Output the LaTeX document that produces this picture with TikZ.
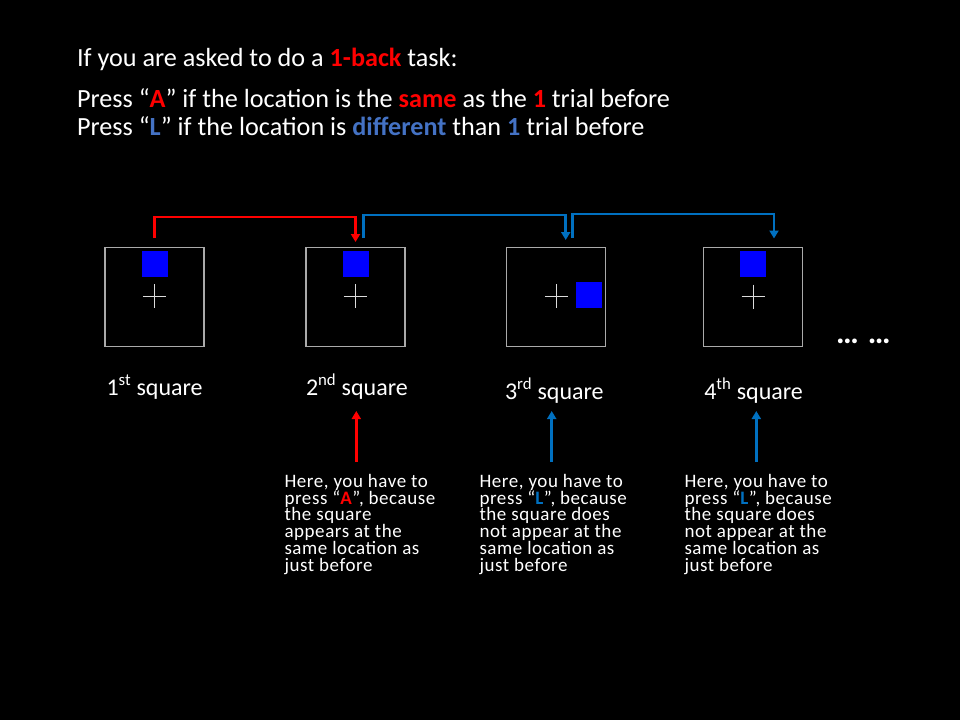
\documentclass[tikz,border=0pt]{standalone}
\usepackage{fontspec}
\setmainfont{Carlito}
\usetikzlibrary{arrows.meta}
\definecolor{tred}{RGB}{255,0,0}
\definecolor{tblue}{RGB}{68,114,196}
\definecolor{cblue}{RGB}{0,112,192}
\definecolor{sqblue}{RGB}{0,0,255}
\definecolor{framegray}{RGB}{170,170,170}
\definecolor{crossgray}{RGB}{220,220,220}
\newcommand{\R}[1]{\textcolor{tred}{\textbf{#1}}}
\newcommand{\B}[1]{\textcolor{tblue}{\textbf{#1}}}
\newcommand{\C}[1]{\textcolor{cblue}{\textbf{#1}}}
\begin{document}
\begin{tikzpicture}[x=1pt,y=-1pt,
  every node/.style={text=white, inner sep=0pt, outer sep=0pt},
  titletext/.style={anchor=base west, font=\fontsize{26.2}{28.5}\selectfont},
  labeltext/.style={anchor=base west, font=\fontsize{24}{28}\selectfont},
  notetext/.style={anchor=north west, align=left, font=\fontsize{19}{16.8}\selectfont\addfontfeatures{LetterSpace=3}},
  framebox/.style={draw=framegray, line width=1.2pt, minimum size=99pt},
  bluesq/.style={fill=sqblue, minimum size=26pt},
  crossline/.style={draw=crossgray, line width=1pt},
  redconn/.style={draw=tred, line width=2.5pt, -{Triangle[width=9pt,length=8pt]}},
  blueconn/.style={draw=cblue, line width=2.5pt, -{Triangle[width=9pt,length=8pt]}}
]
\fill[black] (0,0) rectangle (960,720);
\useasboundingbox (0,0) rectangle (960,720);

% title
\node[titletext] (t1) at (77,66) {If you are asked to do a \R{1-back} task:};
\node[titletext] (t2) at (77,107) {Press “\R{A}” if the location is the \R{same} as the \R{1} trial before};
\node[titletext] (t3) at (77,135) {Press “\B{L}” if the location is \B{different} than \B{1} trial before};

% frames
\node[framebox] (b1) at (154.5,297) {};
\node[framebox] (b2) at (355.5,297) {};
\node[framebox] (b3) at (556,297) {};
\node[framebox] (b4) at (753,297) {};

% blue squares
\node[bluesq] (s1) at (154.5,264) {};
\node[bluesq] (s2) at (355.5,264) {};
\node[bluesq] (s3) at (589,294.7) {};
\node[bluesq] (s4) at (753,264) {};

% crosses
\foreach \cx/\cy in {154.3/296.3, 355.3/296.3, 556.3/296, 753/296.7}{
  \draw[crossline] (\cx-11.5,\cy) -- (\cx+11.5,\cy);
  \draw[crossline] (\cx,\cy-12) -- (\cx,\cy+12);
}

% top connectors
\coordinate (r0) at (154.5,238);
\coordinate (r1) at (355.5,242);
\coordinate (p0) at (363.7,238);
\coordinate (p1) at (565.7,240);
\coordinate (q0) at (572.3,238);
\coordinate (q1) at (774,238.5);
\draw[redconn] (r0) -- ++(0,-21) -| (r1);
\draw[blueconn] (p0) -- ++(0,-23) -| (p1);
\draw[blueconn] (q0) -- ++(0,-24) -| (q1);

% ellipsis
\node[anchor=base, font=\fontsize{32}{34}\selectfont\bfseries] (dots) at (863.5,343) {…\hspace{9pt}…};

% labels
\node[labeltext] (l1) at (106.5,395) {1\textsuperscript{st} square};
\node[labeltext] (l2) at (306,395) {2\textsuperscript{nd} square};
\node[labeltext] (l3) at (505,399) {3\textsuperscript{rd} square};
\node[labeltext] (l4) at (704.3,399) {4\textsuperscript{th} square};

% bottom arrows
\coordinate (a1) at (356.3,462);
\coordinate (a1t) at (356.3,411);
\coordinate (a2) at (551.7,462);
\coordinate (a2t) at (551.7,411);
\coordinate (a3) at (756.3,462);
\coordinate (a3t) at (756.3,411);
\draw[redconn] (a1) -- (a1t);
\draw[blueconn] (a2) -- (a2t);
\draw[blueconn] (a3) -- (a3t);

% notes
\node[notetext] (n1) at (284.5,474) {Here, you have to\\press “\R{A}”, because\\the square\\appears at the\\same location as\\just before};
\node[notetext] (n2) at (479.5,474) {Here, you have to\\press “\C{L}”, because\\the square does\\not appear at the\\same location as\\just before};
\node[notetext] (n3) at (684.5,474) {Here, you have to\\press “\C{L}”, because\\the square does\\not appear at the\\same location as\\just before};
\end{tikzpicture}
\end{document}
